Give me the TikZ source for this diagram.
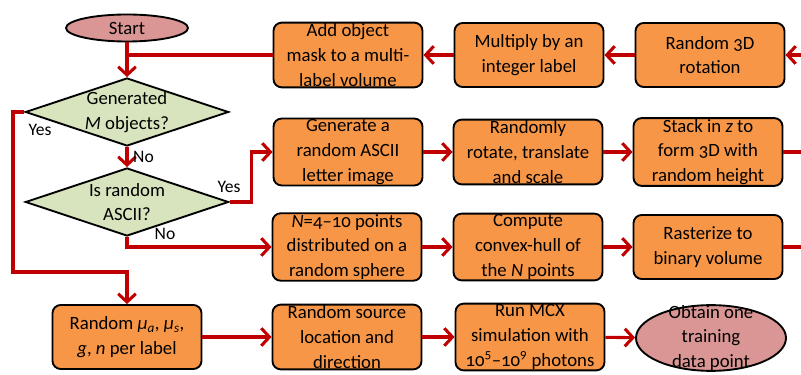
\documentclass[tikz,border=0pt]{standalone}
\usepackage{fontspec}
\setmainfont[Numbers=OldStyle]{Carlito}
\usepackage{tikz}
\usetikzlibrary{arrows.meta,shapes.geometric}
\definecolor{flowRed}{HTML}{C00000}
\definecolor{boxOrange}{HTML}{F79646}
\definecolor{askGreen}{HTML}{D7E4BD}
\definecolor{endPink}{HTML}{D99694}

\tikzset{
    proc/.style={draw, line width=1.6pt, rounded corners=7pt, fill=boxOrange,
        minimum width=4.47cm, minimum height=1.92cm, align=center, inner sep=1pt},
    ask/.style={diamond, draw, line width=1.6pt, fill=askGreen, aspect=3,
        minimum width=6.1cm, minimum height=2.04cm, align=center, inner sep=-2pt},
    term/.style={ellipse, draw, line width=1.6pt, fill=endPink, align=center,
        inner xsep=0pt, inner ysep=-8pt},
    flow/.style={draw=flowRed, line width=2.6pt,
        -{Straight Barb[length=7pt,width=15pt]}},
    wire/.style={draw=flowRed, line width=2.6pt},
    tag/.style={font=\fontsize{15}{18}\selectfont, inner sep=1pt}
}

\begin{document}
\begin{tikzpicture}[x=0.03cm, y=-0.03cm, font=\fontsize{16}{21}\selectfont]
        \useasboundingbox (0,0) rectangle (801,375);

        % left column
        \node[term, minimum width=3.66cm, minimum height=0.81cm] (start) at (127,28) {Start};
        \node[ask] (gen) at (127,112) {Generated\\\textit{M} objects?};
        \node[ask] (ascii) at (127,202) {Is random\\ASCII?};
        \node[proc] (props) at (127,337) {Random \textit{μ}\textsubscript{\textit{a}}, \textit{μ}\textsubscript{\textit{s}},\\\textit{g}, \textit{n} per label};

        % top row (right to left)
        \node[proc] (addmask) at (348,55) {Add object\\mask to a multi-\\label volume};
        \node[proc] (multiply) at (529,55) {Multiply by an\\integer label};
        \node[proc] (rotate3d) at (710,55) {Random 3D\\rotation};

        % ASCII row
        \node[proc] (letter) at (348,152) {Generate a\\random ASCII\\letter image};
        \node[proc] (transform) at (528,152) {Randomly\\rotate, translate\\and scale};
        \node[proc] (stack) at (708,152) {Stack in \textit{z} to\\form 3D with\\random height};

        % convex-hull row
        \node[proc] (points) at (347,247) {\textit{N}=4–10 points\\distributed on a\\random sphere};
        \node[proc] (hull) at (528,247) {Compute\\convex-hull of\\the \textit{N} points};
        \node[proc] (raster) at (708,247) {Rasterize to\\binary volume};

        % bottom row
        \node[proc] (source) at (347,337) {Random source\\location and\\direction};
        \node[proc] (mcx) at (530,337) {Run MCX\\simulation with\\10\textsuperscript{5}–10\textsuperscript{9} photons};
        \node[term, minimum width=4.5cm, minimum height=1.92cm] (result) at (711,338) {Obtain one\\training\\data point};

        % free ends at the right border and the Yes loop corner
        \coordinate (edgeTop) at (801,55);
        \coordinate (edgeMid) at (801,152);
        \coordinate (edgeLow) at (801,247);
        \coordinate (loopL) at (13,272);

        \draw[flow] (start) -- (gen);
        \draw[wire] (addmask.west) -- (start |- addmask.west);
        \draw[flow] (multiply) -- (addmask);
        \draw[flow] (rotate3d) -- (multiply);
        \draw[flow] (edgeTop) -- (rotate3d);

        \draw[flow] (gen) -- node[tag, right=3pt] {No} (ascii);
        \draw[flow] (gen.west) -| (loopL) -| (props.north);
        \node[tag] (yesA) at (40,130) {Yes};

        \draw[flow] (ascii.east) -- ++(22,0) |- (letter.west);
        \node[tag] (yesB) at (229,187) {Yes};
        \draw[flow] (ascii.south) |- (points.west);
        \node[tag] (noB) at (165,234) {No};

        \draw[flow] (letter) -- (transform);
        \draw[flow] (transform) -- (stack);
        \draw[wire] (stack) -- (edgeMid);

        \draw[flow] (points) -- (hull);
        \draw[flow] (hull) -- (raster);
        \draw[wire] (raster) -- (edgeLow);

        \draw[flow] (props) -- (source);
        \draw[flow] (source) -- (mcx);
        \draw[flow] (mcx) -- (result);
    \end{tikzpicture}
\end{document}
